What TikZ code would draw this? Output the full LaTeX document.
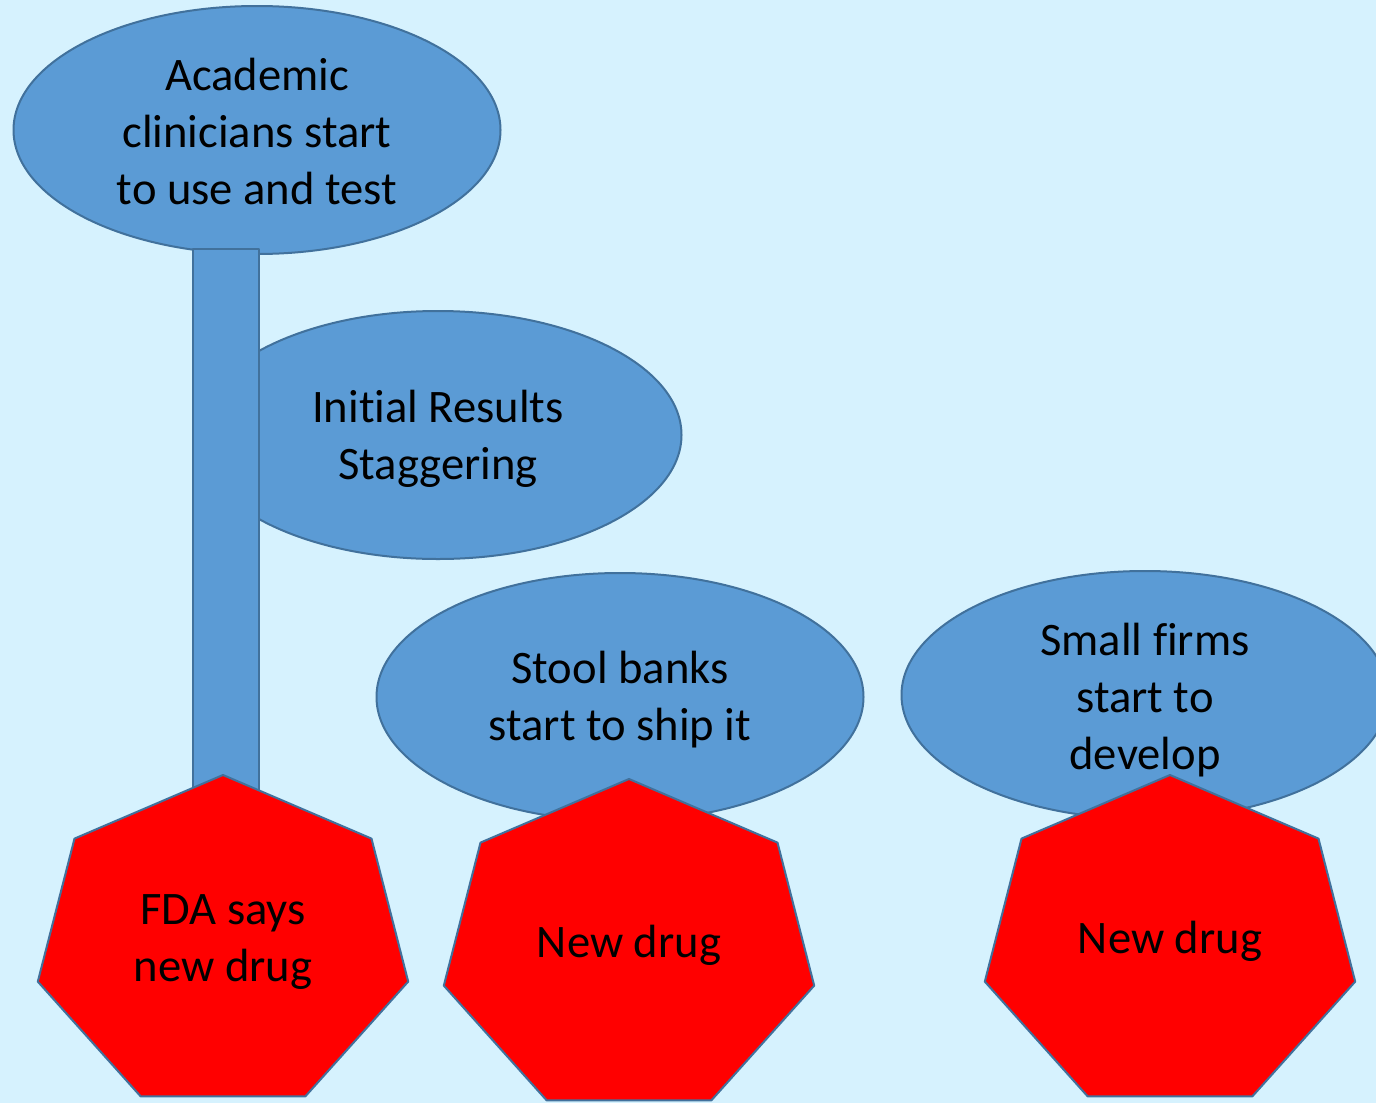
\documentclass[tikz,border=0pt]{standalone}
\usepackage{fontspec}
\setmainfont{Carlito}[Ligatures=NoCommon]
\usetikzlibrary{shapes.geometric}
\definecolor{bgblue}{RGB}{214,242,254}
\definecolor{fillblue}{RGB}{91,155,213}
\definecolor{edgeblue}{RGB}{65,113,156}

\begin{document}
\begin{tikzpicture}[line cap=round,line join=round,x=0.5pt,y=-0.5pt,
	bubble/.style={ellipse,draw=edgeblue,fill=fillblue,line width=1pt,minimum width=243.5pt,minimum height=124pt,inner sep=0pt},
	redgon/.style={draw=edgeblue,fill=red,line width=1pt},
	gontext/.style={align=center,inner sep=0pt,font=\fontsize{23.3}{28.5}\selectfont}]
		\clip(0,0) rectangle (1376,1103);
		\fill [bgblue] (0,0) rectangle (1376,1103);
		\node [bubble] (acad) at (257,130) {};
		\node [gontext] (acadText) at (257,131) {Academic\\clinicians start\\to use and test};
		\node [bubble] (results) at (438,435) {};
		\node [gontext] (resultsText) at (438,439) {Initial Results\\Staggering};
		\draw [draw=edgeblue,fill=fillblue,line width=1pt] (193,249) rectangle (259,800);
		\node [bubble] (stool) at (620,697) {};
		\node [gontext] (stoolText) at (620,700) {Stool banks\\start to ship it};
		\node [bubble] (firms) at (1145,695) {};
		\node [gontext] (firmsText) at (1145,700) {Small firms\\start to\\develop};
		% red heptagons
		\foreach \cx/\cy in {223/944,629/948,1170/944}
			\draw [redgon,shift={(\cx,\cy)}] (0,-169) -- (-148.5,-105.4) -- (-185.2,37.6) -- (-82.4,152.3) -- (82.4,152.3) -- (185.2,37.6) -- (148.5,-105.4) -- cycle;
		\node [gontext] (fda) at (223,942) {FDA says\\new drug};
		\node [gontext] (drugA) at (629,945) {New drug};
		\node [gontext] (drugB) at (1170,941) {New drug};
	\end{tikzpicture}
\end{document}
